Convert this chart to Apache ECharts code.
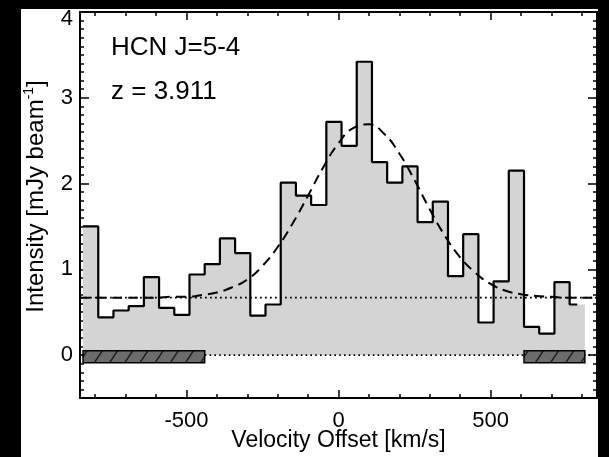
<!DOCTYPE html>
<html>
<head>
<meta charset="utf-8">
<script src="https://cdn.jsdelivr.net/npm/echarts@6/dist/echarts.min.js"></script>
<style>
  html, body { margin: 0; padding: 0; background: #fff; }
  #chart { width: 609px; height: 457px; }
</style>
</head>
<body>
<div id="chart"></div>
<script>
// HCN J=5-4 spectrum: 50 km/s channels (centres) and flux per channel
const velocity = [-815, -765, -715, -665, -615, -565, -515, -465, -415, -365, -315,
  -265, -215, -165, -115, -65, -15, 35, 85, 135, 185, 235, 285, 335, 385, 435,
  485, 535, 585, 635, 685, 735, 785];
const intensity = [1.50, 0.44, 0.52, 0.57, 0.91, 0.55, 0.47, 0.94, 1.06, 1.36, 1.19,
  0.46, 0.59, 2.01, 1.86, 1.75, 2.72, 2.44, 3.42, 2.25, 2.01, 2.20, 1.55, 1.79, 0.92,
  1.41, 0.38, 0.86, 2.15, 0.33, 0.25, 0.85, 0.59];
const channelWidth = 50;

// Gaussian fit on top of the continuum level
const fitVelocity = [-850, -800, -750, -700, -650, -600, -550, -500, -450, -400, -350,
  -300, -250, -200, -150, -100, -50, 0, 50, 100, 150, 200, 250, 300, 350, 400, 450,
  500, 550, 600, 650, 700, 750, 800, 850];
const fitIntensity = [0.67, 0.67, 0.67, 0.67, 0.67, 0.67, 0.68, 0.68, 0.70, 0.73, 0.79,
  0.88, 1.04, 1.26, 1.54, 1.86, 2.19, 2.47, 2.65, 2.69, 2.58, 2.35, 2.04, 1.70, 1.39,
  1.14, 0.96, 0.83, 0.75, 0.71, 0.69, 0.68, 0.67, 0.67, 0.67];
const continuumLevel = 0.67;

// line-free channel ranges used for the continuum
const lineFreeRanges = [[-840, -440], [610, 810]];
const lineFreeBar = [-0.09, 0.05];

// axes
const xRange = [-850, 850];
const yRange = [-0.5, 4];
const xMajorTicks = [-500, 0, 500];
const xMinorTicks = [-800, -700, -600, -500, -400, -300, -200, -100, 0, 100, 200, 300,
  400, 500, 600, 700, 800];
const yMajorTicks = [0, 1, 2, 3, 4];
const yMinorStep = 0.1;

const FONT = '"Liberation Sans", Arial, Helvetica, sans-serif';

// histogram outline points: step through left edges, stop at the last centre
const edgePoints = velocity.map((v, i) => [v - channelWidth / 2, intensity[i]]);
const last = intensity[intensity.length - 1];
const fillPoints = edgePoints.concat([[velocity[velocity.length - 1] + channelWidth / 2, last]]);
const outlinePoints = edgePoints.concat([[velocity[velocity.length - 1], last]]);
const fitPoints = fitVelocity.map((v, i) => [v, fitIntensity[i]]);

function renderHatchedBox(params, api) {
  const pTop = api.coord([api.value(0), api.value(3)]);
  const pBot = api.coord([api.value(1), api.value(2)]);
  const x0 = pTop[0], y0 = pTop[1], x1 = pBot[0], y1 = pBot[1];
  const w = x1 - x0, h = y1 - y0;
  const children = [{
    type: 'rect', shape: { x: x0, y: y0, width: w, height: h },
    style: { fill: '#6c6c6c' }
  }];
  const spacing = 15.2, slant = 8;
  for (let s = x0 - slant + 4; s < x1; s += spacing) {
    let ax = s, ay = y1, bx = s + slant, by = y0;
    if (ax < x0) { const t = (x0 - ax) / slant; ax = x0; ay = y1 - t * h; }
    if (bx > x1) { const t = (bx - x1) / slant; bx = x1; by = y0 + t * h; }
    if (bx <= ax) continue;
    children.push({
      type: 'line', shape: { x1: ax, y1: ay, x2: bx, y2: by },
      style: { stroke: '#1c1c1c', lineWidth: 1.5 }
    });
  }
  children.push({
    type: 'rect', shape: { x: x0, y: y0, width: w, height: h },
    style: { fill: 'none', stroke: '#000', lineWidth: 1.5 }
  });
  return { type: 'group', children };
}

const axisLine = { show: true, onZero: false, lineStyle: { color: '#000', width: 2 } };
const noLine = { show: false, onZero: false };
const tickStyle = { color: '#000', width: 1.5 };

function xAxisDef(position, opts) {
  return Object.assign({
    type: 'value', min: xRange[0], max: xRange[1], position,
    axisLine: noLine, splitLine: { show: false },
    axisLabel: { show: false }
  }, opts);
}
function yAxisDef(position, opts) {
  return Object.assign({
    type: 'value', min: yRange[0], max: yRange[1], position,
    axisLine: noLine, splitLine: { show: false },
    axisLabel: { show: false }
  }, opts);
}

const option = {
  animation: false,
  backgroundColor: '#fff',
  grid: { left: 80, right: 12, top: 12, bottom: 57, containLabel: false },
  xAxis: [
    xAxisDef('bottom', {
      axisLine,
      axisTick: { show: true, inside: true, length: 4, customValues: xMinorTicks, lineStyle: tickStyle },
      name: 'Velocity Offset [km/s]', nameLocation: 'middle', nameGap: 31,
      nameTextStyle: { fontFamily: FONT, fontSize: 23, color: '#000' }
    }),
    xAxisDef('top', {
      axisLine,
      axisTick: { show: true, inside: true, length: 4, customValues: xMinorTicks, lineStyle: tickStyle }
    }),
    xAxisDef('bottom', {
      axisTick: { show: true, inside: true, length: 8, customValues: xMajorTicks, lineStyle: tickStyle },
      axisLabel: { show: true, customValues: xMajorTicks, margin: 12,
        fontFamily: FONT, fontSize: 22, color: '#000' }
    }),
    xAxisDef('top', {
      axisTick: { show: true, inside: true, length: 8, customValues: xMajorTicks, lineStyle: tickStyle }
    })
  ],
  yAxis: [
    yAxisDef('left', {
      axisLine, interval: yMinorStep,
      axisTick: { show: true, inside: true, length: 4, lineStyle: tickStyle },
      name: '{a|Intensity [mJy beam}{sup|-1}{a|]}',
      nameLocation: 'middle', nameGap: 30,
      nameTextStyle: {
        fontFamily: FONT, fontSize: 24, color: '#000', padding: [0, 0, 0, 17],
        rich: {
          a: { fontFamily: FONT, fontSize: 24, color: '#000', lineHeight: 28 },
          sup: { fontFamily: FONT, fontSize: 14, color: '#000', lineHeight: 15, verticalAlign: 'top' }
        }
      }
    }),
    yAxisDef('right', {
      axisLine, interval: yMinorStep,
      axisTick: { show: true, inside: true, length: 4, lineStyle: tickStyle }
    }),
    yAxisDef('left', {
      axisTick: { show: true, inside: true, length: 9, customValues: yMajorTicks, lineStyle: tickStyle },
      axisLabel: {
        show: true, customValues: yMajorTicks, margin: 7,
        fontFamily: FONT, fontSize: 22, color: '#000',
        // the top label sits just below its tick, inside the frame
        formatter: v => (v === yRange[1] ? '{top|' + v + '}' : String(v)),
        rich: { top: { fontFamily: FONT, fontSize: 22, color: '#000', padding: [13, 0, 0, 0] } }
      }
    }),
    yAxisDef('right', {
      axisTick: { show: true, inside: true, length: 9, customValues: yMajorTicks, lineStyle: tickStyle }
    })
  ],
  series: [
    {
      name: 'fill', type: 'line', step: 'end', data: fillPoints,
      symbol: 'none', lineStyle: { width: 0 },
      areaStyle: { color: '#d4d4d4', opacity: 1 }, z: 1, silent: true
    },
    {
      name: 'zero', type: 'line', data: [[xRange[0], 0], [xRange[1], 0]],
      symbol: 'none', lineStyle: { color: '#000', width: 1.6, type: [1.6, 3.2] }, z: 2
    },
    {
      name: 'continuum', type: 'line', data: [[xRange[0], continuumLevel], [xRange[1], continuumLevel]],
      symbol: 'none', lineStyle: { color: '#000', width: 1.8, type: [1.8, 3.2] }, z: 2
    },
    {
      name: 'line-free', type: 'custom', renderItem: renderHatchedBox,
      data: lineFreeRanges.map(r => [r[0], r[1], lineFreeBar[0], lineFreeBar[1]]),
      encode: { x: [0, 1], y: [2, 3] }, z: 3
    },
    {
      name: 'spectrum', type: 'line', step: 'end', data: outlinePoints,
      symbol: 'none', lineStyle: { color: '#000', width: 2.2 }, z: 4
    },
    {
      name: 'fit', type: 'line', data: fitPoints, smooth: true,
      symbol: 'none', lineStyle: { color: '#000', width: 2, type: [10, 6] }, z: 5
    }
  ],
  graphic: [
    { type: 'text', left: 111, top: 35, z: 10,
      style: { text: 'HCN J=5-4', font: '26px ' + FONT, fill: '#000' } },
    { type: 'text', left: 111, top: 79, z: 10,
      style: { text: 'z = 3.911', font: '26px ' + FONT, fill: '#000' } },
    { type: 'rect', z: 100, shape: { x: 0, y: 0, width: 21, height: 457 }, style: { fill: '#000' } },
    { type: 'rect', z: 100, shape: { x: 0, y: 0, width: 609, height: 9 }, style: { fill: '#000' } },
    { type: 'rect', z: 100, shape: { x: 598, y: 0, width: 11, height: 457 }, style: { fill: '#000' } }
  ]
};

const chart = echarts.init(document.getElementById('chart'), null, { renderer: 'canvas' });
chart.setOption(option);
</script>
</body>
</html>
